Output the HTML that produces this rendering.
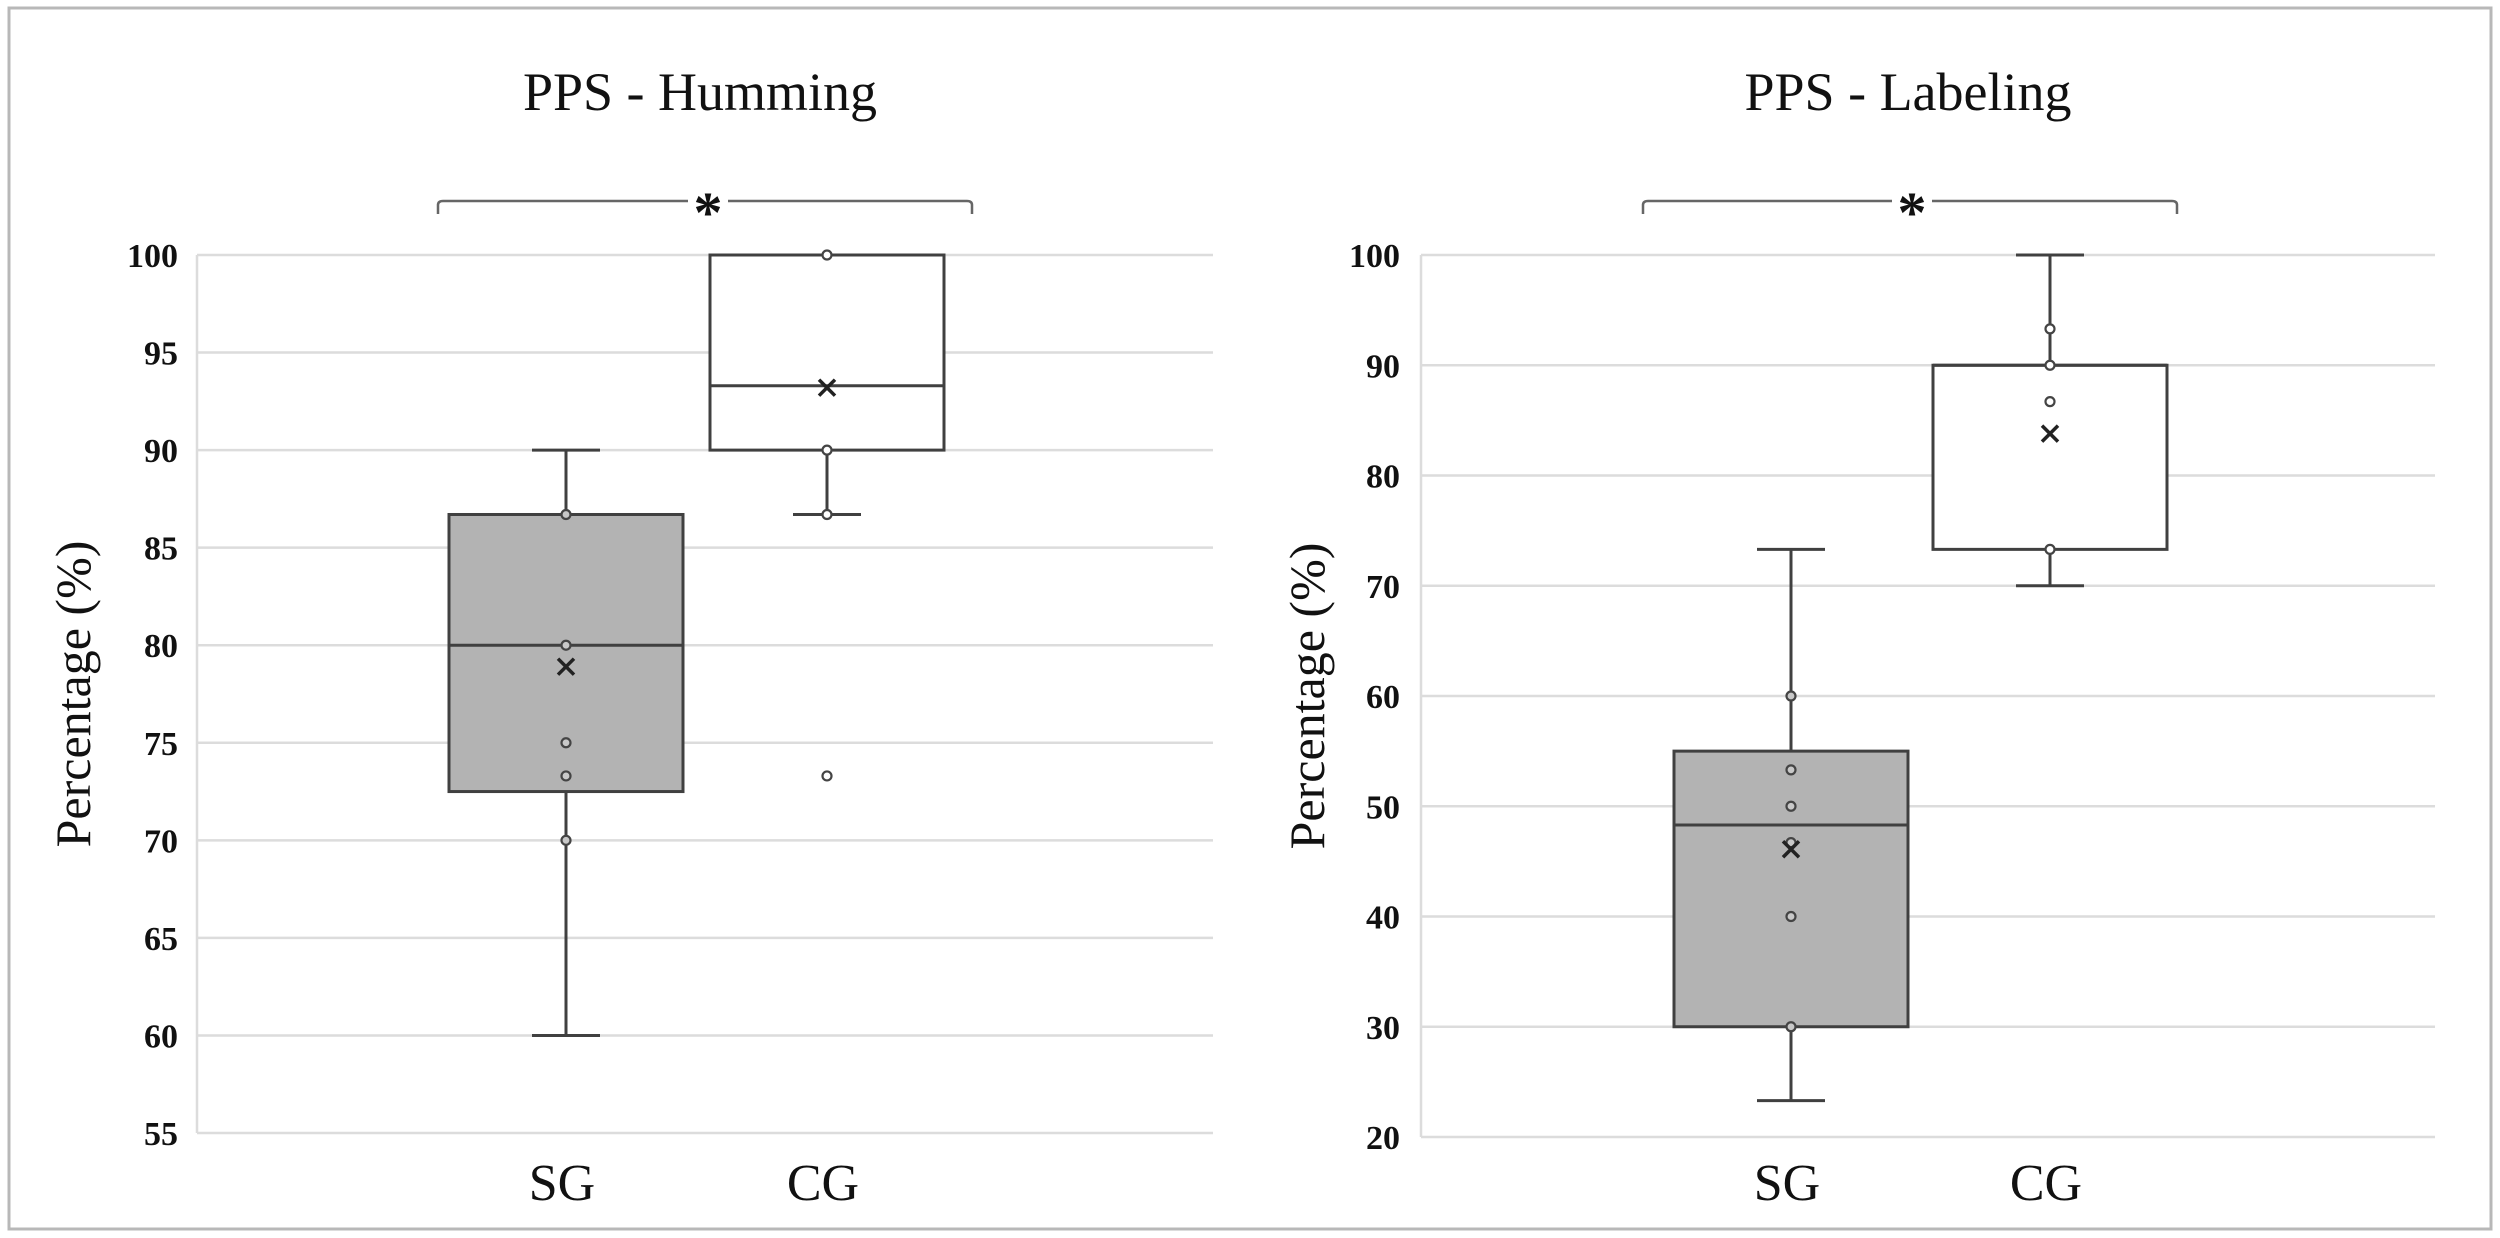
<!DOCTYPE html>
<html><head><meta charset="utf-8"><style>
html,body{margin:0;padding:0;background:#fff}
svg{display:block}
text{font-family:"Liberation Serif",serif;fill:#111}
</style></head><body>
<svg id="svg" width="2500" height="1238" viewBox="0 0 2500 1238" xmlns="http://www.w3.org/2000/svg">
<rect x="9" y="8" width="2482" height="1221" fill="#fff" stroke="#b8b8b8" stroke-width="3"/>
</svg>
<script>
// Chart 1: PPS - Humming
const humTicks = [55,60,65,70,75,80,85,90,95,100];
const humCategories = ['SG','CG'];
const humQ1 = [72.5, 90];
const humMedian = [80, 93.3];
const humQ3 = [86.7, 100];
const humMin = [60, 86.7];
const humMax = [90, 100];
const humMean = [78.9, 93.2];
const humPointsSG = [86.7, 80, 75, 73.3, 70];
const humPointsCG = [100, 90, 86.7, 73.3];
// Chart 2: PPS - Labeling
const labTicks = [20,30,40,50,60,70,80,90,100];
const labCategories = ['SG','CG'];
const labQ1 = [30, 73.3];
const labMedian = [48.3, 90];
const labQ3 = [55, 90];
const labMin = [23.3, 70];
const labMax = [73.3, 100];
const labMean = [46.1, 83.8];
const labPointsSG = [60, 53.3, 50, 46.7, 40, 30];
const labPointsCG = [93.3, 90, 86.7, 73.3];

const NS='http://www.w3.org/2000/svg';
const svg=document.getElementById('svg');
function mk(tag,attrs,parent,txt){const e=document.createElementNS(NS,tag);for(const k in attrs)e.setAttribute(k,attrs[k]);if(txt!==undefined)e.textContent=txt;(parent||svg).appendChild(e);return e;}

function drawChart(cfg){
  const g=mk('g',{});
  
  
  const ymin=cfg.ticks[0], ymax=cfg.ticks[cfg.ticks.length-1];
  const y=v=>cfg.yTop+(ymax-v)/(ymax-ymin)*(cfg.yBot-cfg.yTop);
  cfg.ticks.forEach(t=>{
    const l=mk('line',{x1:cfg.x0,x2:cfg.x1,y1:y(t),y2:y(t),stroke:'#dcdcdc','stroke-width':2.5},g);
    
    
    const tx=mk('text',{x:cfg.tickX,y:y(t)+12,'text-anchor':'end','font-size':34,'font-weight':'bold',fill:'#333'},g,String(t));
    
    
  });
  const ax=mk('line',{x1:cfg.x0,x2:cfg.x0,y1:y(ymax),y2:y(ymin),stroke:'#dcdcdc','stroke-width':2.5},g);
  
  
  const ti=mk('text',{x:cfg.titleX,y:110,'text-anchor':'middle','font-size':54},g,cfg.title);
  
  
  const yt=mk('text',{x:0,y:0,'text-anchor':'middle','font-size':50,transform:`translate(${cfg.yTitleX},${(cfg.yTop+cfg.yBot)/2}) rotate(-90)`},g,'Percentage (%)');
  
  
  const b=cfg.bracket;
  const bp=mk('path',{d:`M${b[0]},214 L${b[0]},205 Q${b[0]},201 ${b[0]+5},201 L${b[2]-20},201 M${b[2]+20},201 L${b[1]-5},201 Q${b[1]},201 ${b[1]},205 L${b[1]},214`,fill:'none',stroke:'#666','stroke-width':2.5},g);
  
  
  const ast=mk('text',{x:b[2],y:232,'text-anchor':'middle','font-size':58,'font-weight':'bold'},g,'*');
  
  
  cfg.cats.forEach((c,i)=>{
    const cx=cfg.cx[i], hw=cfg.boxW/2, cap=34;
    const bg=mk('g',{},g);
    
    
    const st={stroke:'#404040','stroke-width':3};
    mk('line',Object.assign({x1:cx,x2:cx,y1:y(cfg.max[i]),y2:y(cfg.q3[i])},st),bg);
    mk('line',Object.assign({x1:cx,x2:cx,y1:y(cfg.q1[i]),y2:y(cfg.min[i])},st),bg);
    mk('line',Object.assign({x1:cx-cap,x2:cx+cap,y1:y(cfg.max[i]),y2:y(cfg.max[i])},st),bg);
    mk('line',Object.assign({x1:cx-cap,x2:cx+cap,y1:y(cfg.min[i]),y2:y(cfg.min[i])},st),bg);
    mk('rect',Object.assign({x:cx-hw,y:y(cfg.q3[i]),width:cfg.boxW,height:y(cfg.q1[i])-y(cfg.q3[i]),fill:i===0?'#b3b3b3':'#fff'},st),bg);
    mk('line',Object.assign({x1:cx-hw,x2:cx+hw,y1:y(cfg.med[i]),y2:y(cfg.med[i])},st),bg);
    cfg.pts[i].forEach(p=>{
      const ci=mk('circle',{cx:cx,cy:y(p),r:4.5,fill:i===0?'#c8c8c8':'#fff',stroke:'#444','stroke-width':2.2},bg);
      
      
    });
    const my=y(cfg.mean[i]);
    const mx=mk('path',{d:`M${cx-8},${my-8} L${cx+8},${my+8} M${cx+8},${my-8} L${cx-8},${my+8}`,stroke:'#222','stroke-width':3.5},bg);
    
    
    const xl=mk('text',{x:cx-4,y:1200,'text-anchor':'middle','font-size':52},g,c);
    
    
  });
}
drawChart({name:'humming-chart',title:'PPS - Humming',titleX:700,ticks:humTicks,yTop:255,yBot:1133,x0:197,x1:1213,tickX:178,yTitleX:90,
  bracket:[438,972,708],cats:humCategories,cx:[566,827],boxW:234,q1:humQ1,med:humMedian,q3:humQ3,min:humMin,max:humMax,mean:humMean,pts:[humPointsSG,humPointsCG]});
drawChart({name:'labeling-chart',title:'PPS - Labeling',titleX:1908,ticks:labTicks,yTop:255,yBot:1137,x0:1421,x1:2435,tickX:1400,yTitleX:1324,
  bracket:[1643,2177,1912],cats:labCategories,cx:[1791,2050],boxW:234,q1:labQ1,med:labMedian,q3:labQ3,min:labMin,max:labMax,mean:labMean,pts:[labPointsSG,labPointsCG]});
</script>
</body></html>
